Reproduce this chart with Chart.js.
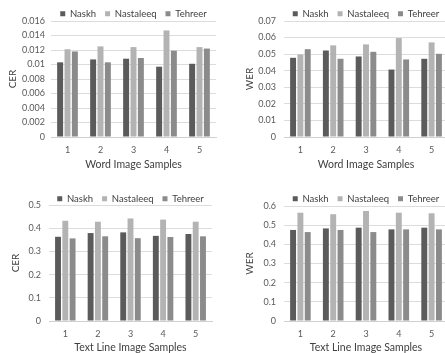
<!DOCTYPE html>
<html>
<head>
<meta charset="utf-8">
<script src="https://cdn.jsdelivr.net/npm/chart.js@4"></script>
<style>
  html, body { margin: 0; padding: 0; background: #fff; }
  body { width: 445px; height: 353px; overflow: hidden; position: relative; }
  canvas { position: absolute; }
</style>
</head>
<body>
<canvas id="wordCer" width="222" height="176" style="left:0;top:0"></canvas>
<canvas id="wordWer" width="230" height="176" style="left:222px;top:0"></canvas>
<canvas id="lineCer" width="222" height="180" style="left:0;top:176px"></canvas>
<canvas id="lineWer" width="230" height="180" style="left:222px;top:176px"></canvas>
<script>
const samples = ['1', '2', '3', '4', '5'];
const scripts = ['Naskh', 'Nastaleeq', 'Tehreer'];
const colors = ['#5b5b5b', '#b3b3b3', '#8b8b8b'];

// word image samples
const wordCerNaskh     = [0.0103, 0.0107, 0.0108, 0.0097, 0.0101];
const wordCerNastaleeq = [0.0121, 0.0125, 0.0124, 0.0147, 0.0124];
const wordCerTehreer   = [0.0118, 0.0103, 0.0109, 0.0119, 0.0122];

const wordWerNaskh     = [0.0478, 0.0522, 0.0486, 0.0407, 0.0472];
const wordWerNastaleeq = [0.0498, 0.0553, 0.0559, 0.0597, 0.0571];
const wordWerTehreer   = [0.0530, 0.0472, 0.0514, 0.0468, 0.0502];

// text line image samples
const lineCerNaskh     = [0.363, 0.379, 0.382, 0.367, 0.375];
const lineCerNastaleeq = [0.432, 0.428, 0.442, 0.437, 0.428];
const lineCerTehreer   = [0.356, 0.365, 0.357, 0.362, 0.365];

const lineWerNaskh     = [0.475, 0.483, 0.487, 0.478, 0.487];
const lineWerNastaleeq = [0.565, 0.557, 0.574, 0.565, 0.562];
const lineWerTehreer   = [0.464, 0.475, 0.464, 0.478, 0.478];

const FONT = 'Lato';

// pins the plot area where the reference has it
function makeChart(id, series, yTitle, xTitle, yMax, yStep, box) {
  const c = document.getElementById(id);
  const W = c.width, H = c.height;
  const fixLegend = {
    id: 'fixLegend',
    beforeLayout(chart) {
      if (chart.legend && !chart.legend._fixed) {
        const lg = chart.legend;
        const orig = lg.fit;
        lg.fit = function() {
          this.maxWidth = Math.max(this.maxWidth, 240);
          orig.call(this);
          this.height = box.top - box.padTop;
        };
        lg._fixed = true;
      }
    },
    afterLayout(chart) {
      // widen the legend box evenly so it stays on one line, centred over the plot
      const lg = chart.legend;
      lg.left -= 30; lg.right += 30; lg.width += 60;
    }
  };
  return new Chart(c, {
    type: 'bar',
    data: {
      labels: samples,
      datasets: series.map((d, i) => ({
        label: scripts[i],
        data: d,
        backgroundColor: colors[i],
        borderWidth: 0,
        categoryPercentage: 0.67,
        barPercentage: 0.81
      }))
    },
    options: {
      responsive: false,
      animation: false,
      devicePixelRatio: 1,
      layout: { padding: { left: 0, top: box.padTop, right: W - box.right, bottom: box.padBottom } },
      plugins: {
        tooltip: { enabled: false },
        legend: {
          position: 'top',
          fullSize: false,
          labels: {
            boxWidth: 5, boxHeight: 5, padding: 9,
            color: '#404040',
            font: { family: FONT, size: 9.5 }
          }
        }
      },
      scales: {
        x: {
          grid: { display: false, drawTicks: false },
          border: { color: '#d0d0d0' },
          ticks: { color: '#595959', padding: 8, font: { family: FONT, size: 9 } },
          title: { display: true, text: xTitle, color: '#404040', padding: 0, font: { family: FONT, size: 10.5 } },
          afterFit(s) { s.height = H - box.padBottom - box.bottom; }
        },
        y: {
          min: 0, max: yMax,
          grid: { color: '#dcdcdc', drawTicks: false },
          border: { display: false },
          ticks: {
            stepSize: yStep, color: '#595959', padding: box.tickPad,
            font: { family: FONT, size: 9 },
            callback: v => String(parseFloat(v.toFixed(4)))
          },
          title: { display: true, text: yTitle, color: '#404040', padding: { top: box.titlePad, bottom: 0 }, font: { family: FONT, size: 10 } },
          afterFit(s) { s.width = box.left; }
        }
      }
    },
    plugins: [fixLegend]
  });
}

makeChart('wordCer', [wordCerNaskh, wordCerNastaleeq, wordCerTehreer], 'CER', 'Word Image Samples', 0.016, 0.002,
  { left: 51, right: 216, top: 21, bottom: 137, padTop: 0, padBottom: 5, tickPad: 6, titlePad: 7 });
makeChart('wordWer', [wordWerNaskh, wordWerNastaleeq, wordWerTehreer], 'WER', 'Word Image Samples', 0.07, 0.01,
  { left: 62, right: 226, top: 21, bottom: 137, padTop: 0, padBottom: 5, tickPad: 8, titlePad: 22 });
makeChart('lineCer', [lineCerNaskh, lineCerNastaleeq, lineCerTehreer], 'CER', 'Text Line Image Samples', 0.5, 0.05,
  { left: 49, right: 212, top: 29, bottom: 145, padTop: 9, padBottom: 2, tickPad: 8, titlePad: 10 });
makeChart('lineWer', [lineWerNaskh, lineWerNastaleeq, lineWerTehreer], 'WER', 'Text Line Image Samples', 0.6, 0.1,
  { left: 62, right: 226, top: 30, bottom: 145, padTop: 9, padBottom: 2, tickPad: 8, titlePad: 22 });
</script>
</body>
</html>
